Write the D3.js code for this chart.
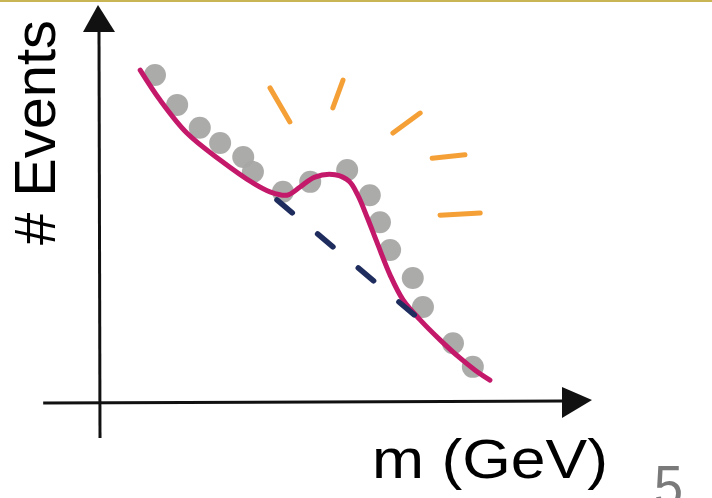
<!DOCTYPE html>
<html><head><meta charset="utf-8">
<script src="https://cdn.jsdelivr.net/npm/d3@7"></script>
<style>html,body{margin:0;padding:0;background:#fff;overflow:hidden}</style>
</head><body>
<script>
// ---- data (arbitrary units: mass on x, events on y) ----
const signalMass   = [8.7,13.0,18.8,26.0,33.1,36.8,40.5,43.3,46.5,50.9,53.9,55.8,57.8,60.0,62.8,65.6,69.3,73.6,77.9,81.2,84.4];
const signalEvents = [89.7,81.6,72.7,65.4,59.2,56.8,55.9,58.1,60.8,61.4,59.7,55.9,50.0,43.0,34.3,27.6,22.2,16.8,11.9,8.6,5.9];
const dataMass     = [11.9,16.7,21.6,26.0,31.0,33.1,39.6,45.5,53.5,58.4,60.6,62.8,67.7,69.9,76.4,80.7];
const dataEvents   = [88.4,80.3,74.1,70.0,66.2,62.2,56.8,59.5,62.7,55.9,48.6,41.1,33.5,25.7,15.9,9.5];
const bkgMass      = [38.3,69.9];
const bkgEvents    = [54.6,21.6];
const rayX1 = [36.8,52.6,69.3,71.9,73.6];
const rayY1 = [84.9,87.0,78.1,65.9,50.5];
const rayX2 = [41.1,50.4,63.4,79.0,82.3];
const rayY2 = [75.7,79.5,72.7,66.8,51.1];
const xAxisExtent = [-12.3, 106.5];
const yAxisExtent = [-9.7, 107.3];
const xLabel = "m (GeV)";
const yLabel = "# Events";
const pageNumber = "5";

const W = 712, H = 498;
const svg = d3.select("body").append("svg").attr("width", W).attr("height", H);

const x = d3.scaleLinear().domain([0, 100]).range([100, 562]);
const y = d3.scaleLinear().domain([0, 100]).range([402, 32]);

// top slide rule
svg.append("rect").attr("x", 0).attr("y", 0).attr("width", W).attr("height", 2).attr("fill", "#c9b553");

// axes
const axisCol = "#111";
svg.append("line").attr("x1", x(xAxisExtent[0])).attr("x2", x(100))
  .attr("y1", y(0)+1).attr("y2", y(0)-1).attr("stroke", axisCol).attr("stroke-width", 3);
svg.append("line").attr("x1", x(0)).attr("x2", x(0)-1)
  .attr("y1", y(yAxisExtent[0])).attr("y2", y(100)).attr("stroke", axisCol).attr("stroke-width", 3);
// arrowheads
svg.append("path").attr("fill", axisCol)
  .attr("d", `M${x(100)},${y(0)-15}L${x(xAxisExtent[1])},${y(0)-2}L${x(100)},${y(0)+16}Z`);
svg.append("path").attr("fill", axisCol)
  .attr("d", `M${x(0)-17},${y(100)}L${x(0)-2},${y(yAxisExtent[1])}L${x(0)+15},${y(100)}Z`);

// data dots
svg.append("g").selectAll("circle").data(dataMass).join("circle")
  .attr("cx", (d,i) => x(d)).attr("cy", (d,i) => y(dataEvents[i])).attr("r", 11)
  .attr("fill", "#a6a8a5").attr("opacity", 0.95);

// signal + background curve
const line = d3.line().x(d => x(d[0])).y(d => y(d[1])).curve(d3.curveCatmullRom.alpha(0.5));
svg.append("path").datum(signalMass.map((m,i) => [m, signalEvents[i]]))
  .attr("d", line).attr("fill", "none").attr("stroke", "#c4196a")
  .attr("stroke-width", 5).attr("stroke-linecap", "round").attr("stroke-linejoin", "round");

// background-only dashed
svg.append("path").datum(bkgMass.map((m,i) => [m, bkgEvents[i]]))
  .attr("d", d3.line().x(d => x(d[0])).y(d => y(d[1])))
  .attr("fill", "none").attr("stroke", "#1f2c5e").attr("stroke-width", 5.5)
  .attr("stroke-linecap", "round").attr("stroke-dasharray", "20,33");

// excitement rays
svg.append("g").selectAll("line").data(rayX1).join("line")
  .attr("x1", d => x(d)).attr("y1", (d,i) => y(rayY1[i]))
  .attr("x2", (d,i) => x(rayX2[i])).attr("y2", (d,i) => y(rayY2[i]))
  .attr("stroke", "#f4a037").attr("stroke-width", 5).attr("stroke-linecap", "round");

// labels
svg.append("text").attr("transform", "translate(55,245) rotate(-90)")
  .attr("font-family", "Liberation Sans, Arial, sans-serif").attr("font-size", 57)
  .attr("textLength", 225).attr("lengthAdjust", "spacingAndGlyphs")
  .attr("fill", "#000").text(yLabel);
svg.append("text").attr("x", 372).attr("y", 478)
  .attr("font-family", "Liberation Sans, Arial, sans-serif").attr("font-size", 55)
  .attr("textLength", 236).attr("lengthAdjust", "spacingAndGlyphs")
  .attr("fill", "#000").text(xLabel);
svg.append("text").attr("x", 654).attr("y", 506)
  .attr("font-family", "Liberation Sans, Arial, sans-serif").attr("font-size", 57)
  .attr("font-weight", 300).attr("textLength", 29).attr("lengthAdjust", "spacingAndGlyphs")
  .attr("fill", "#7a7a7a").text(pageNumber);
</script>
</body></html>
